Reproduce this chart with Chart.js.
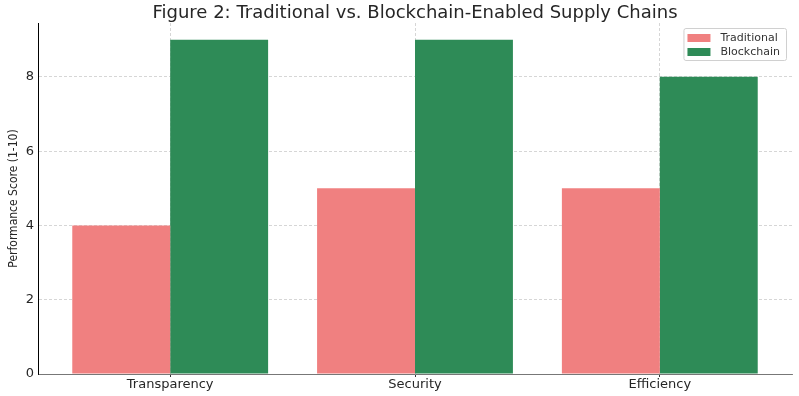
<!DOCTYPE html>
<html>
<head>
<meta charset="utf-8">
<script src="https://cdn.jsdelivr.net/npm/chart.js@4/dist/chart.umd.min.js"></script>
<style>
    html, body { margin: 0; padding: 0; background: #fff; }
    #wrap { width: 799px; height: 396px; }
</style>
</head>
<body>
<div id="wrap"><canvas id="supplyChart" width="799" height="396"></canvas></div>
<script>
// Chart data
const categories = ['Transparency', 'Security', 'Efficiency'];
const traditional = [4, 5, 5];
const blockchain = [9, 9, 8];
const yTicks = [0, 2, 4, 6, 8];

// Build {x, y} points for a linear x axis (category index -> position)
function toPoints(values) {
    return values.map(function (v, i) { return { x: i, y: v }; });
}

// Boxed legend inside the plot, top right
const boxLegend = {
    id: 'boxLegend',
    afterDraw: function (chart) {
        const ctx = chart.ctx;
        const area = chart.chartArea;
        const sets = chart.data.datasets;
        ctx.save();
        ctx.font = '11px "DejaVu Sans"';
        let textW = 0;
        sets.forEach(function (ds) { textW = Math.max(textW, ctx.measureText(ds.label).width); });
        const boxW = 4 + 23 + 10 + textW + 6;
        const rowH = 14;
        const boxH = rowH * sets.length + 4;
        const x0 = area.right - 6 - boxW;
        const y0 = area.top + 5;
        ctx.fillStyle = 'rgba(255,255,255,0.8)';
        ctx.strokeStyle = '#d0d0d0';
        ctx.lineWidth = 1;
        ctx.beginPath();
        ctx.roundRect(x0 + 0.5, y0 + 0.5, boxW, boxH, 2);
        ctx.fill();
        ctx.stroke();
        ctx.textBaseline = 'middle';
        sets.forEach(function (ds, i) {
            const cy = y0 + 2 + rowH * i + rowH / 2 + 1;
            ctx.fillStyle = ds.backgroundColor;
            ctx.fillRect(x0 + 4, cy - 4, 23, 8);
            ctx.fillStyle = '#333';
            ctx.fillText(ds.label, x0 + 37, cy);
        });
        ctx.restore();
    }
};

// Title centred over the plot area rather than the canvas
const plotTitle = {
    id: 'plotTitle',
    afterDraw: function (chart) {
        const ctx = chart.ctx;
        const area = chart.chartArea;
        ctx.save();
        ctx.font = '18px "DejaVu Sans"';
        ctx.fillStyle = '#262626';
        ctx.textAlign = 'center';
        ctx.textBaseline = 'middle';
        ctx.fillText('Figure 2: Traditional vs. Blockchain-Enabled Supply Chains', (area.left + area.right) / 2, 13);
        ctx.restore();
    }
};

const ctx = document.getElementById('supplyChart').getContext('2d');
const myChart = new Chart(ctx, {
    type: 'bar',
    data: {
        datasets: [{
            label: 'Traditional',
            data: toPoints(traditional),
            backgroundColor: '#F08080'
        }, {
            label: 'Blockchain',
            data: toPoints(blockchain),
            backgroundColor: '#2E8B57'
        }]
    },
    options: {
        responsive: false,
        animation: false,
        categoryPercentage: 0.8,
        barPercentage: 1.0,
        layout: { padding: { left: 0, right: 7, top: 23, bottom: 0 } },
        plugins: {
            legend: { display: false },
            tooltip: { enabled: false },
            title: { display: false }
        },
        scales: {
            x: {
                type: 'linear',
                min: -0.54,
                max: 2.54,
                offset: false,
                afterBuildTicks: function (scale) {
                    scale.ticks = categories.map(function (c, i) { return { value: i }; });
                },
                afterFit: function (scale) { scale.height = 22; },
                ticks: {
                    color: '#262626',
                    font: { family: '"DejaVu Sans"', size: 13 },
                    padding: 0,
                    maxRotation: 0,
                    callback: function (value) { return categories[value]; }
                },
                grid: {
                    offset: false,
                    color: '#cccccc',
                    lineWidth: 0.8,
                    tickColor: '#000',
                    tickLength: 3,
                    tickBorderDash: [],
                    drawTicks: true
                },
                border: { display: true, color: '#777', width: 1, dash: [3, 2] }
            },
            y: {
                min: 0,
                max: 9.45,
                afterBuildTicks: function (scale) {
                    scale.ticks = yTicks.map(function (v) { return { value: v }; });
                },
                afterFit: function (scale) { scale.width = 38; },
                title: {
                    display: true,
                    text: 'Performance Score (1-10)',
                    color: '#262626',
                    font: { family: '"DejaVu Sans Condensed", "DejaVu Sans"', size: 12 },
                    padding: { top: 7, bottom: 0 }
                },
                ticks: {
                    color: '#262626',
                    font: { family: '"DejaVu Sans"', size: 13 },
                    padding: 4
                },
                grid: {
                    color: '#cccccc',
                    lineWidth: 0.8,
                    drawTicks: false,
                    tickLength: 0
                },
                border: { display: true, color: '#000', width: 1, dash: [3, 2] }
            }
        }
    },
    plugins: [boxLegend, plotTitle]
});
</script>
</body>
</html>
